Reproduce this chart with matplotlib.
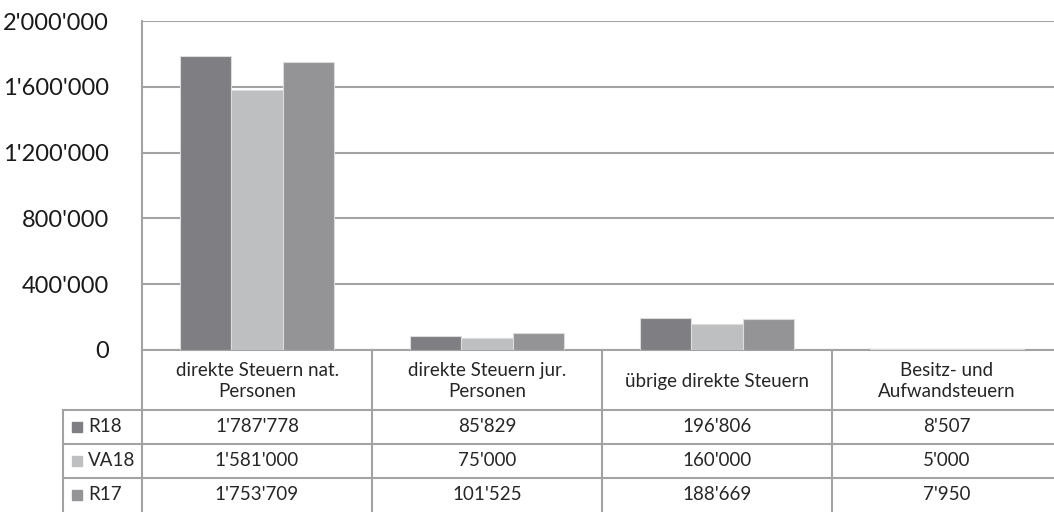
import matplotlib.pyplot as plt
import matplotlib.ticker as mticker
from matplotlib.patches import Rectangle
import numpy as np

# Daten
categories = ['direkte Steuern nat.\nPersonen', 'direkte Steuern jur.\nPersonen',
              'übrige direkte Steuern', 'Besitz- und\nAufwandsteuern']
series = ['R18', 'VA18', 'R17']
r18 = [1787778, 85829, 196806, 8507]
va18 = [1581000, 75000, 160000, 5000]
r17 = [1753709, 101525, 188669, 7950]
colors = ['#7f7f83', '#bebfc1', '#949497']

plt.rcParams['font.family'] = ['Lato', 'DejaVu Sans']

W, H = 1054, 512
fig = plt.figure(figsize=(W / 100, H / 100), dpi=100)
grid_c = '#a3a3a3'

# Balkendiagramm
ax = fig.add_axes([142 / W, 162 / H, 920 / W, 329 / H])
ax.set_zorder(2)
ax.patch.set_alpha(0)
x = np.arange(len(categories))
bw = 0.222
for k, vals in enumerate([r18, va18, r17]):
    ax.bar(x + (k - 1) * bw, vals, bw, color=colors[k], edgecolor='#dcdcdc', linewidth=0.8, zorder=3)

ax.set_xlim(-0.5, len(categories) - 0.5)
ax.set_ylim(0, 2000000)
ax.set_yticks(np.arange(0, 2000001, 400000))
ax.yaxis.set_major_formatter(mticker.FuncFormatter(lambda v, p: f'{int(v):,}'.replace(',', "'")))
ax.tick_params(axis='y', length=0, pad=24, labelsize=17, labelcolor='#1a1a1a')
ax.set_xticks([])
ax.grid(axis='y', color=grid_c, linewidth=1.5, zorder=0)
for s in ['top', 'right', 'bottom']:
    ax.spines[s].set_visible(False)
ax.spines['left'].set_color(grid_c)
ax.spines['left'].set_linewidth(1.5)

# Datentabelle
tax = fig.add_axes([0, 0, 1, 1])
tax.set_zorder(1)
tax.set_xlim(0, W)
tax.set_ylim(H, 0)
tax.axis('off')

col_w = 230
x0 = 142
y_head = 350
y_rows = [410, 444, 478, 512]
lw = 1.5
right = x0 + col_w * len(categories)

tax.plot([x0, right], [y_head, y_head], color=grid_c, lw=lw)
for yy in y_rows[:-1]:
    tax.plot([63, right], [yy, yy], color=grid_c, lw=lw)
tax.plot([63, 63], [y_rows[0], H], color=grid_c, lw=lw)
for i in range(len(categories) + 1):
    tax.plot([x0 + i * col_w, x0 + i * col_w], [y_head, H], color=grid_c, lw=lw)

fs = 13.5
for i, cat in enumerate(categories):
    tax.text(x0 + (i + 0.5) * col_w, (y_head + y_rows[0]) / 2 + 1, cat, ha='center', va='center',
             fontsize=fs, color='#262626', linespacing=1.3)

for r, (name, vals) in enumerate(zip(series, [r18, va18, r17])):
    yc = (y_rows[r] + y_rows[r + 1]) / 2
    tax.add_patch(Rectangle((72, yc - 5), 10, 10, color=colors[r]))
    tax.text(88, yc, name, ha='left', va='center', fontsize=fs, color='#262626')
    for i, v in enumerate(vals):
        tax.text(x0 + (i + 0.5) * col_w, yc, f'{v:,}'.replace(',', "'"), ha='center', va='center',
                 fontsize=fs, color='#262626')

fig.savefig('out.png', dpi=100)
